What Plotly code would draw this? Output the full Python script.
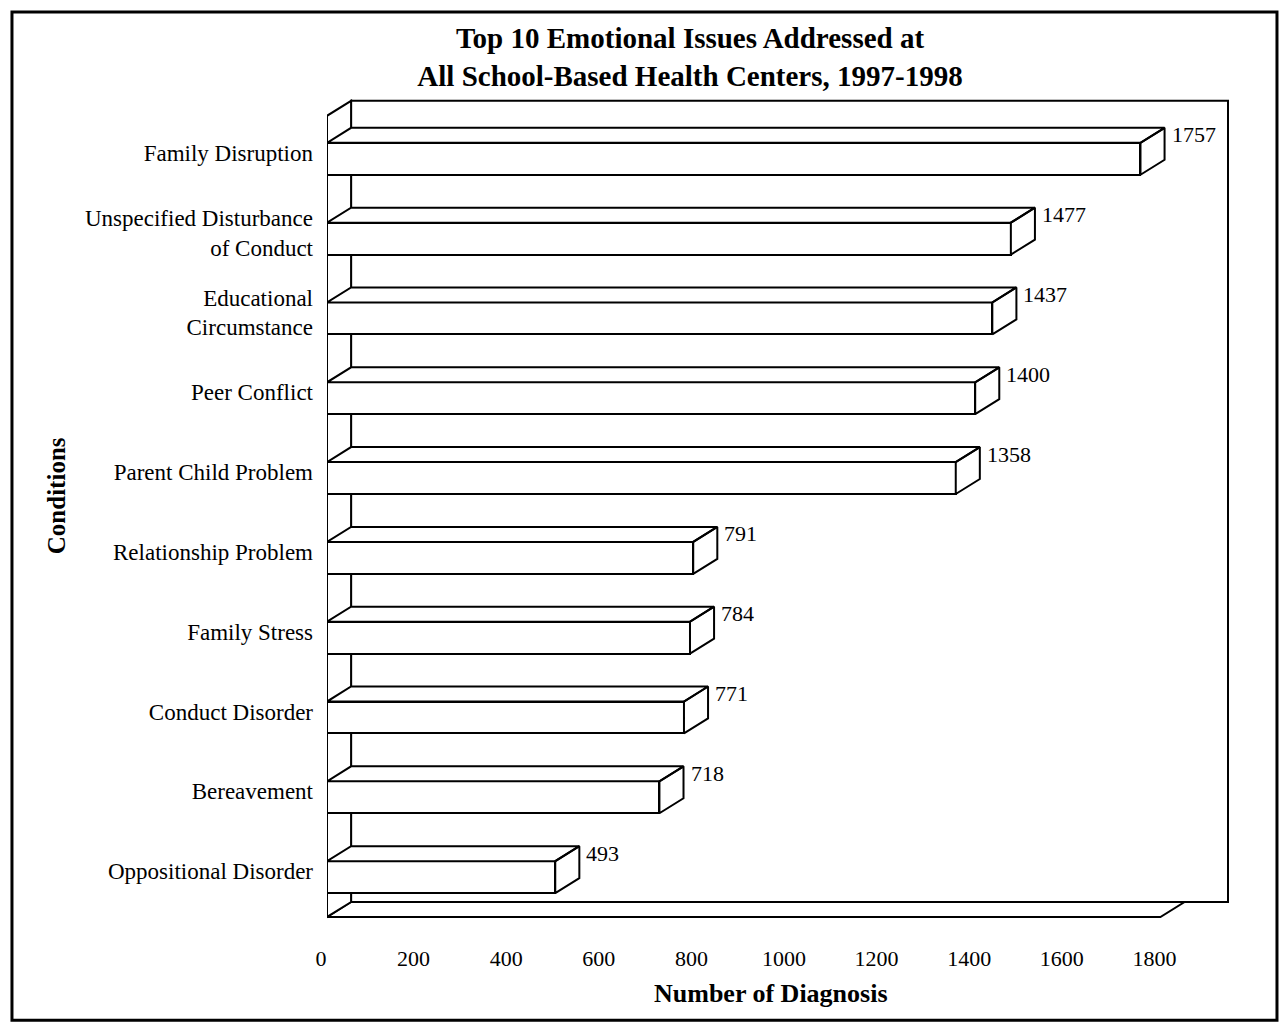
import plotly.graph_objects as go

# ---------------- data ----------------
categories = [
    "Family Disruption",
    "Unspecified Disturbance<br>of Conduct",
    "Educational<br>Circumstance",
    "Peer Conflict",
    "Parent Child Problem",
    "Relationship Problem",
    "Family Stress",
    "Conduct Disorder",
    "Bereavement",
    "Oppositional Disorder",
]
values = [1757, 1477, 1437, 1400, 1358, 791, 784, 771, 718, 493]
x_tick_values = [0, 200, 400, 600, 800, 1000, 1200, 1400, 1600, 1800]
x_tick_labels = [str(v) for v in x_tick_values]
chart_title = "Top 10 Emotional Issues Addressed at<br>All School-Based Health Centers, 1997-1998"
x_title = "Number of Diagnosis"
y_title = "Conditions"

# ---------------- styling / geometry ----------------
FONT = "Liberation Serif, Times New Roman, serif"
BAR_W = 0.4          # bar thickness in category units
DEPTH_X = 52         # oblique depth in value units
DEPTH_Y = 0.188      # oblique depth in category units
X_MAX_AXIS = 1800    # end of floor
BACK_RIGHT = 1946    # right edge of back wall
FLOOR_Y = -0.5
TOP_Y = 9.727
LW = 2

n = len(categories)
pos = [n - 1 - i for i in range(n)]

fig = go.Figure()

# front faces of bars
fig.add_trace(go.Bar(
    x=values, y=pos, orientation="h", width=BAR_W,
    marker=dict(color="white", line=dict(color="black", width=LW)),
    hoverinfo="skip", showlegend=False,
))

# top and side faces of bars
xs, ys = [], []
for v, p in zip(values, pos):
    t = p + BAR_W / 2
    b = p - BAR_W / 2
    xs += [0, v, v + DEPTH_X, DEPTH_X, 0, None]
    ys += [t, t, t + DEPTH_Y, t + DEPTH_Y, t, None]
    xs += [v, v + DEPTH_X, v + DEPTH_X, v, v, None]
    ys += [b, b + DEPTH_Y, t + DEPTH_Y, t, b, None]
fig.add_trace(go.Scatter(
    x=xs, y=ys, mode="lines", fill="toself", fillcolor="white",
    line=dict(color="black", width=LW), hoverinfo="skip", showlegend=False,
))

# value labels
for v, p in zip(values, pos):
    fig.add_annotation(
        x=v + DEPTH_X, y=p + 0.30, text=str(v), showarrow=False,
        xanchor="left", yanchor="middle", xshift=5,
        font=dict(family=FONT, size=22, color="black"),
    )

# 3D frame: back wall, floor, left wall
shapes = []
shapes.append(dict(type="rect", xref="x", yref="y", layer="below",
                   x0=DEPTH_X, x1=BACK_RIGHT, y0=FLOOR_Y + DEPTH_Y, y1=TOP_Y,
                   line=dict(color="black", width=LW), fillcolor="white"))
shapes.append(dict(type="path", xref="x", yref="y", layer="below",
                   path=f"M 0,{FLOOR_Y} L {X_MAX_AXIS},{FLOOR_Y} L {X_MAX_AXIS + DEPTH_X},{FLOOR_Y + DEPTH_Y} "
                        f"L {DEPTH_X},{FLOOR_Y + DEPTH_Y} Z",
                   line=dict(color="black", width=LW), fillcolor="white"))
shapes.append(dict(type="path", xref="x", yref="y", layer="below",
                   path=f"M 0,{FLOOR_Y} L 0,{TOP_Y - DEPTH_Y} L {DEPTH_X},{TOP_Y} L {DEPTH_X},{FLOOR_Y + DEPTH_Y} Z",
                   line=dict(color="black", width=LW), fillcolor="white"))
# outer border
shapes.append(dict(type="rect", xref="paper", yref="paper", layer="below",
                   x0=-0.3402, x1=1.0259, y0=-0.1127, y1=1.0792,
                   line=dict(color="black", width=3), fillcolor="rgba(0,0,0,0)"))

# axis titles
fig.add_annotation(
    xref="paper", yref="paper", x=0.4795, y=-0.0808, text=f"<b>{x_title}</b>",
    showarrow=False, xanchor="center", yanchor="middle",
    font=dict(family=FONT, size=26, color="black"),
)
fig.add_annotation(
    xref="paper", yref="paper", x=-0.2927, y=0.508, text=f"<b>{y_title}</b>",
    showarrow=False, xanchor="center", yanchor="middle", textangle=-90,
    font=dict(family=FONT, size=25, color="black"),
)

fig.update_layout(
    width=1280, height=1027,
    margin=dict(l=327, r=27, t=79, b=102),
    paper_bgcolor="white", plot_bgcolor="white",
    shapes=shapes,
    title=dict(text=f"<b>{chart_title}</b>", x=690 / 1280, xanchor="center",
               y=1 - 48 / 1027, yanchor="top",
               font=dict(family=FONT, size=29, color="black")),
    xaxis=dict(range=[0, 2000], showgrid=False, zeroline=False, showline=False,
               tickmode="array", tickvals=x_tick_values, ticktext=x_tick_labels,
               ticks="", ticklabelstandoff=18, ticklabelshift=-6,
               tickfont=dict(family=FONT, size=22, color="black"), fixedrange=True),
    yaxis=dict(range=[-0.6, 10.0], showgrid=False, zeroline=False, showline=False,
               tickmode="array", tickvals=pos, ticktext=categories,
               ticks="", ticklabelstandoff=13, ticklabelshift=-6,
               tickfont=dict(family=FONT, size=23, color="black"), fixedrange=True),
    bargap=0,
)

fig.write_html("out.html", config={"displayModeBar": False},
               post_script="document.body.style.margin='0';")
